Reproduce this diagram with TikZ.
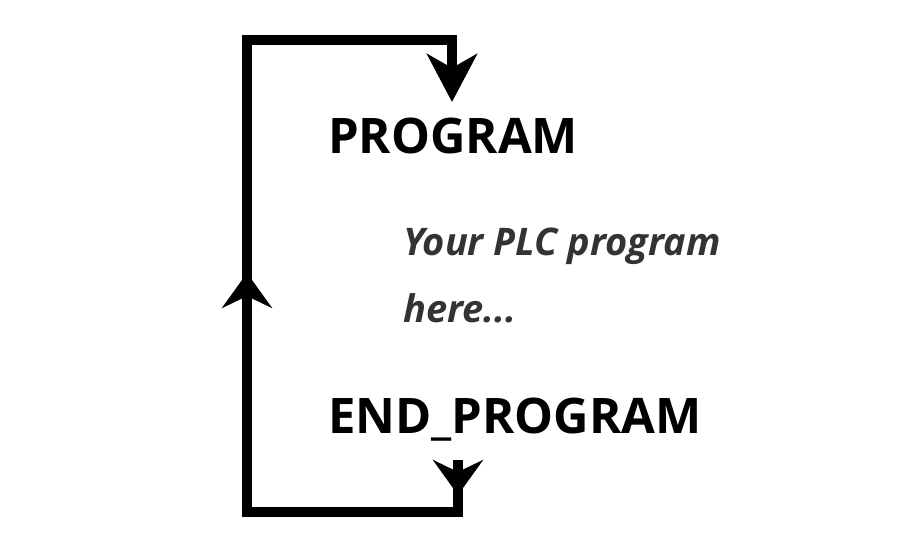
\documentclass[tikz,border=0pt]{standalone}
\usepackage{fontspec}
\setmainfont{Open Sans}
\IfFontExistsTF{Open Sans ExtraBold}
  {\newfontfamily\heavyfont{Open Sans ExtraBold}}
  {\newcommand\heavyfont{\bfseries}}
\usetikzlibrary{arrows.meta}
\definecolor{codegray}{HTML}{333333}
\tikzstyle{loopline}=[line width=10pt, line join=miter]
\tikzstyle{keyword}=[inner sep=0pt, anchor=base west, font=\fontsize{49}{60}\selectfont\heavyfont]
\tikzstyle{codetext}=[inner sep=0pt, anchor=base west, text=codegray, font=\fontsize{38}{46}\selectfont\bfseries\itshape]
\tikzset{>={Stealth[length=35pt, width=50pt, inset=12pt]}}

\begin{document}
\begin{tikzpicture}[x=1pt, y=-1pt]
\useasboundingbox (0,0) rectangle (900,550);
% the texts
\node[keyword] (prog) at (328,153) {PROGRAM};
\node[codetext] (code1) at (403,255) {Your PLC program};
\node[codetext] (code2) at (403,322) {here...};
\node[keyword] (endprog) at (328,433) {END\_PROGRAM};
% the corners of the loop
\coordinate (out) at (458,460);
\coordinate (outtip) at (458,495);
\coordinate (br) at (458,512);
\coordinate (bl) at (247,512);
\coordinate (upbase) at (247,308);
\coordinate (uptip) at (247,273);
\coordinate (tl) at (247,40);
\coordinate (tr) at (452,40);
\coordinate (in) at (452,102);
% the loop
\draw[loopline] (out) -- (br) -- (bl) -- (tl) -- (tr) -- (452,60);
\draw[loopline, -{Stealth[length=48pt, width=50pt, inset=14pt]}] (452,54) -- (in);
% the arrow heads on the way
\draw[loopline, ->] (out) -- (outtip);
\draw[loopline, ->] (upbase) -- (uptip);
\end{tikzpicture}
\end{document}
